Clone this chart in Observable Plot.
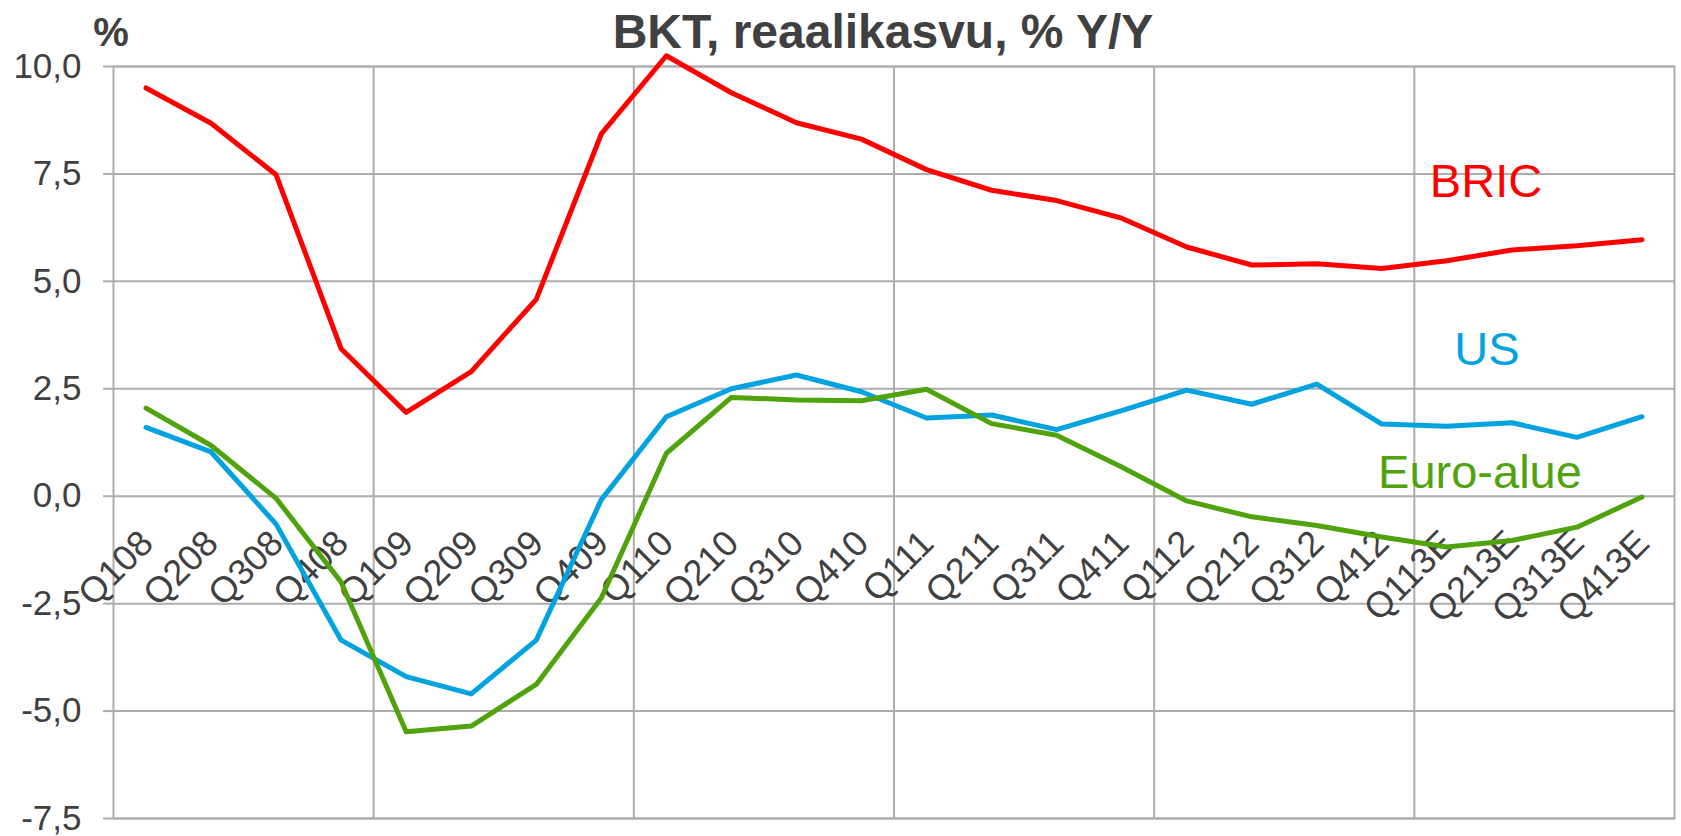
<!DOCTYPE html>
<html>
<head>
<meta charset="utf-8">
<script src="https://cdn.jsdelivr.net/npm/d3@7"></script>
<script src="https://cdn.jsdelivr.net/npm/@observablehq/plot@0.6"></script>
<style>
  html, body { margin: 0; padding: 0; background: #fff; }
  #wrap { position: relative; width: 1681px; height: 836px; font-family: Arial, "Liberation Sans", sans-serif; }
  #title { position: absolute; left: 883px; top: 8px; transform: translateX(-50%); white-space: nowrap;
           font-size: 48px; line-height: 48px; font-weight: bold; color: #404040; }
  #unit { position: absolute; left: 111px; top: 12px; transform: translateX(-50%); white-space: nowrap;
          font-size: 40px; line-height: 40px; font-weight: bold; color: #404040; }
  svg { display: block; }
</style>
</head>
<body>
<div id="wrap">
  <div id="chart"></div>
  <div id="title">BKT, reaalikasvu, % Y/Y</div>
  <div id="unit">%</div>
</div>
<script>
const categories = ["Q108","Q208","Q308","Q408","Q109","Q209","Q309","Q409","Q110","Q210","Q310","Q410",
                    "Q111","Q211","Q311","Q411","Q112","Q212","Q312","Q412","Q113E","Q213E","Q313E","Q413E"];
const bric = [9.5, 8.68, 7.48, 3.43, 1.95, 2.9, 4.58, 8.43, 10.25, 9.39, 8.69, 8.31,
              7.6, 7.12, 6.88, 6.47, 5.8, 5.38, 5.41, 5.3, 5.48, 5.73, 5.83, 5.97];
const us = [1.6, 1.03, -0.65, -3.35, -4.2, -4.6, -3.35, -0.08, 1.85, 2.5, 2.82, 2.43,
            1.82, 1.89, 1.55, 1.99, 2.47, 2.14, 2.61, 1.68, 1.63, 1.71, 1.37, 1.85];
const euro = [2.05, 1.18, -0.05, -2.0, -5.48, -5.35, -4.38, -2.37, 1.0, 2.3, 2.24, 2.22,
              2.49, 1.69, 1.42, 0.68, -0.11, -0.48, -0.68, -0.95, -1.18, -1.03, -0.72, -0.02];
const seriesNames = ["BRIC", "US", "Euro-alue"];
const yTicks = [-7.5, -5, -2.5, 0, 2.5, 5, 7.5, 10];

const colors = {"BRIC": "#FF0000", "US": "#00A3DF", "Euro-alue": "#50A30C"};
const seriesData = {"BRIC": bric, "US": us, "Euro-alue": euro};

const rows = seriesNames.flatMap(s => seriesData[s].map((v, i) => ({s, i, v})));
const lastPoints = seriesNames.map(s => ({s, i: categories.length - 1, v: seriesData[s][categories.length - 1]}));
// year boundaries: before each Q1 category (except the first)
const boundaries = categories.map((c, i) => ({c, i})).filter(d => d.i > 0 && d.c.startsWith("Q1")).map(d => d.i - 0.5);

const grid = "#ADADAD";
const fmt = d => d.toFixed(1).replace(".", ",");

const label = (name, dx, dy) => Plot.text(lastPoints.filter(d => d.s === name), {
  x: "i", y: "v", text: "s", fill: colors[name], fontSize: 47, textAnchor: "middle", lineAnchor: "bottom", dx, dy
});

const lineOpts = name => ({x: "i", y: "v", stroke: colors[name], strokeWidth: 5, strokeLinejoin: "round", strokeLinecap: "round"});

const chart = Plot.plot({
  width: 1681,
  height: 836,
  marginLeft: 113,
  marginRight: 7,
  marginTop: 66,
  marginBottom: 18,
  x: {domain: [-0.5, categories.length - 0.5], axis: null},
  y: {domain: [-7.5, 10], axis: null},
  style: {fontFamily: "Arial, 'Liberation Sans', sans-serif", color: "#404040", background: "#fff", overflow: "visible"},
  marks: [
    Plot.ruleY(yTicks, {stroke: grid, strokeWidth: 2}),
    Plot.ruleX(boundaries, {stroke: grid, strokeWidth: 2}),
    Plot.frame({stroke: grid, strokeWidth: 2}),
    Plot.axisY(yTicks, {label: null, tickSize: 10, tickPadding: 22, fontSize: 35, stroke: grid, strokeWidth: 2, fill: "#404040", tickFormat: fmt}),
    Plot.text(categories, {x: (d, i) => i, y: () => 0, text: d => d, rotate: -45, textAnchor: "end",
      dx: 1, dy: 41, fontSize: 36, fill: "#404040"}),
    Plot.line(rows.filter(d => d.s === "BRIC"), lineOpts("BRIC")),
    Plot.line(rows.filter(d => d.s === "US"), lineOpts("US")),
    Plot.line(rows.filter(d => d.s === "Euro-alue"), lineOpts("Euro-alue")),
    label("BRIC", -156, -43),
    label("US", -155, -52),
    label("Euro-alue", -162, -9)
  ]
});
document.getElementById("chart").appendChild(chart);
</script>
</body>
</html>
